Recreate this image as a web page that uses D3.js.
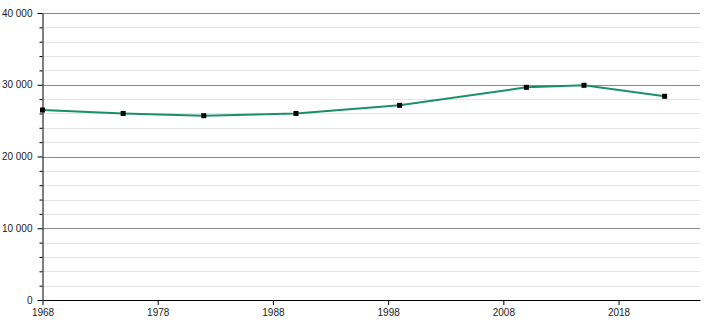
<!DOCTYPE html>
<html>
<head>
<meta charset="utf-8">
<script src="https://cdn.jsdelivr.net/npm/d3@7"></script>
<style>
  body { margin: 0; background: #fff; }
  svg text { font-family: "Liberation Sans", Arial, sans-serif; font-size: 10px; fill: #222; }
</style>
</head>
<body>
<div id="container"></div>
<script>
const years = [1968, 1975, 1982, 1990, 1999, 2010, 2015, 2022]
const population = [26480, 26000, 25690, 26000, 27130, 29640, 29920, 28390]
const xTicks = [1968, 1978, 1988, 1998, 2008, 2018]
const yTicks = [0, 10000, 20000, 30000, 40000]

const width = 710
const height = 320
const margin = { top: 13, right: 10, bottom: 20, left: 42.5 }

const data = years.map((y, i) => ({ year: y, value: population[i] }))

const svg = d3.select('#container')
  .append('svg')
  .attr('width', width)
  .attr('height', height)

const xScale = d3.scaleLinear()
  .domain([1968, 2025.07])
  .range([margin.left, width - margin.right])
const yScale = d3.scaleLinear()
  .domain([0, 40000])
  .range([height - margin.bottom, margin.top])

const fmt = d => d3.format(',')(d).replace(/,/g, ' ')

// minor gridlines every 2000
const minor = d3.range(2000, 40000, 2000).filter(v => v % 10000 !== 0)
svg.append('g')
  .selectAll('line')
  .data(minor)
  .join('line')
  .attr('x1', margin.left)
  .attr('x2', width - margin.right)
  .attr('y1', d => Math.round(yScale(d)) + 0.5)
  .attr('y2', d => Math.round(yScale(d)) + 0.5)
  .attr('stroke', '#e4e4e4')
  .attr('stroke-width', 1)

// major gridlines
svg.append('g')
  .selectAll('line')
  .data(yTicks.filter(v => v > 0))
  .join('line')
  .attr('x1', margin.left)
  .attr('x2', width - margin.right)
  .attr('y1', d => Math.round(yScale(d)) + 0.5)
  .attr('y2', d => Math.round(yScale(d)) + 0.5)
  .attr('stroke', '#8a8a8a')
  .attr('stroke-width', 1)

// y axis with minor ticks
svg.append('g')
  .attr('transform', `translate(${margin.left},0)`)
  .call(d3.axisLeft(yScale).tickValues(minor).tickSize(3).tickFormat(''))
  .call(g => g.select('.domain').remove())
const yAxis = svg.append('g')
  .attr('transform', `translate(${margin.left},0)`)
  .call(d3.axisLeft(yScale).tickValues(yTicks).tickSize(5).tickSizeOuter(0).tickPadding(5).tickFormat(fmt))
yAxis.selectAll('line, path').attr('stroke', '#000')
yAxis.selectAll('text').attr('font-size', 10).attr('fill', '#222')

// x axis
const xAxis = svg.append('g')
  .attr('transform', `translate(0,${yScale(0)})`)
  .call(d3.axisBottom(xScale).tickValues(xTicks).tickSize(5).tickSizeOuter(0).tickPadding(4).tickFormat(d3.format('d')))
xAxis.selectAll('line, path').attr('stroke', '#000')
xAxis.selectAll('text').attr('font-size', 10).attr('fill', '#222')

const line = d3.line()
  .x(d => xScale(d.year))
  .y(d => yScale(d.value))

svg.append('path')
  .datum(data)
  .attr('fill', 'none')
  .attr('stroke', '#1a9068')
  .attr('stroke-width', 2)
  .attr('d', line)

svg.append('g')
  .selectAll('rect')
  .data(data)
  .join('rect')
  .attr('x', d => xScale(d.year) - 2.5)
  .attr('y', d => yScale(d.value) - 2.5)
  .attr('width', 5)
  .attr('height', 5)
  .attr('fill', '#000')
</script>
</body>
</html>
